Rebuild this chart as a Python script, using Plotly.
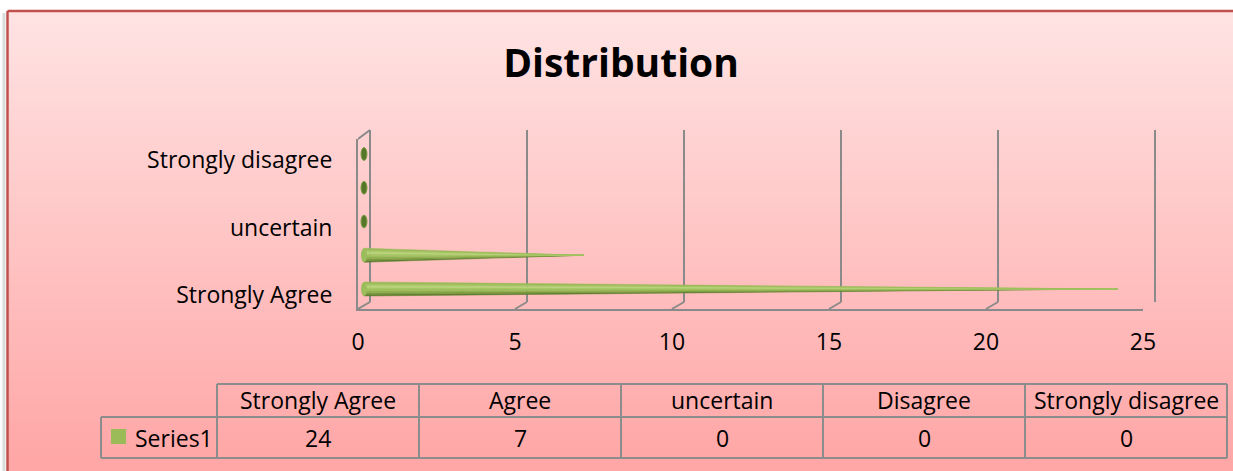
import plotly.graph_objects as go

# ---- data ----
categories = ["Strongly Agree", "Agree", "uncertain", "Disagree", "Strongly disagree"]
values = [24, 7, 0, 0, 0]
series_name = "Series1"
title_text = "Distribution"
x_ticks = [0, 5, 10, 15, 20, 25]
y_label_idx = [0, 2, 4]

W, H = 1233, 471
FONT = "Open Sans"


def fx(px):
    return px / W


def fy(py):
    return 1 - py / H


fig = go.Figure()

# ---- background: pink vertical gradient inside a red frame ----
shapes = []
top_c, bot_c = (255, 227, 227), (255, 165, 165)
y_start, y_end, step = 11, H, 4
y = y_start
while y < y_end:
    t = (y - y_start) / (y_end - y_start)
    c = tuple(round(a + (b - a) * t) for a, b in zip(top_c, bot_c))
    shapes.append(dict(type="rect", xref="paper", yref="paper", layer="below",
                       x0=fx(7), x1=1.0, y0=fy(min(y + step + 1, y_end)), y1=fy(y),
                       fillcolor=f"rgb{c}", line=dict(width=0)))
    y += step
shapes.append(dict(type="line", xref="paper", yref="paper", layer="below",
                   x0=fx(4), x1=fx(4), y0=0, y1=fy(13),
                   line=dict(color="#dcdcdc", width=3)))
shapes.append(dict(type="line", xref="paper", yref="paper", layer="below",
                   x0=fx(7.5), x1=1.0, y0=fy(11), y1=fy(11),
                   line=dict(color="#c0504d", width=2.5)))
shapes.append(dict(type="line", xref="paper", yref="paper", layer="below",
                   x0=fx(7.5), x1=fx(7.5), y0=0, y1=fy(11),
                   line=dict(color="#c0504d", width=2.5)))

GRID = "#8a8a8a"

# ---- 3D floor connectors (front edge -> back wall) and left wall top ----
for v in x_ticks:
    shapes.append(dict(type="line", xref="x", yref="paper", xsizemode="pixel",
                       xanchor=v, x0=0, x1=12, y0=fy(309), y1=fy(302),
                       line=dict(color=GRID, width=2)))
shapes.append(dict(type="line", xref="x", yref="paper", xsizemode="pixel",
                   xanchor=0, x0=0, x1=12, y0=fy(139), y1=fy(130),
                   line=dict(color=GRID, width=2)))

# ---- cones: shaded bands converging at the value ----
band_stops = [-1.0, -0.75, -0.5, -0.25, 0.0, 0.25, 0.5, 0.75, 1.0]
band_cols = ["#5f7f2e", "#7a9b40", "#8fb04f", "#9dbe5c", "#a6c765",
             "#b9d77c", "#a8c868", "#9abb58"]
h = 0.207  # half height of a cone base, in category units
for i, v in enumerate(values):
    if v > 0:
        for (a, b), col in zip(zip(band_stops[:-1], band_stops[1:]), band_cols):
            fig.add_trace(go.Scatter(
                x=[0, v, 0, 0], y=[i + a * h, i, i + b * h, i + a * h],
                mode="lines", fill="toself", fillcolor=col,
                line=dict(width=0.5, color=col), hoverinfo="skip",
                showlegend=False, xaxis="x3", yaxis="y3"))
        shapes.append(dict(type="circle", xref="x3", yref="y3", xsizemode="pixel",
                           xanchor=0, x0=-3, x1=3, y0=i - h, y1=i + h,
                           fillcolor="#9cbd5b", line=dict(width=0)))
    else:
        shapes.append(dict(type="circle", xref="x3", yref="y3", xsizemode="pixel",
                           xanchor=0, x0=-3, x1=3, y0=i - 0.19, y1=i + 0.19,
                           fillcolor="#56762a", line=dict(color="#7f9f48", width=1)))

# ---- data table below the plot ----
TBL = "#8c8c8c"
col_edges = [217, 419, 621, 823, 1025, 1227]
row_top, row_mid, row_bot = 384, 417, 458
leg_left = 101
shapes.append(dict(type="line", xref="paper", yref="paper", x0=fx(col_edges[0]), x1=fx(col_edges[-1]),
                   y0=fy(row_top), y1=fy(row_top), line=dict(color=TBL, width=2)))
shapes.append(dict(type="line", xref="paper", yref="paper", x0=fx(leg_left), x1=fx(col_edges[-1]),
                   y0=fy(row_mid), y1=fy(row_mid), line=dict(color=TBL, width=2)))
shapes.append(dict(type="line", xref="paper", yref="paper", x0=fx(leg_left), x1=fx(col_edges[-1]),
                   y0=fy(row_bot), y1=fy(row_bot), line=dict(color=TBL, width=2)))
for xe in col_edges:
    shapes.append(dict(type="line", xref="paper", yref="paper", x0=fx(xe), x1=fx(xe),
                       y0=fy(row_bot), y1=fy(row_top), line=dict(color=TBL, width=2)))
shapes.append(dict(type="line", xref="paper", yref="paper", x0=fx(leg_left), x1=fx(leg_left),
                   y0=fy(row_bot), y1=fy(row_mid), line=dict(color=TBL, width=2)))
shapes.append(dict(type="rect", xref="paper", yref="paper", x0=fx(111), x1=fx(126),
                   y0=fy(444), y1=fy(429), fillcolor="#9bbb59", line=dict(width=0)))

TXT = dict(family=FONT, size=23, color="#000000")
annotations = []
for k, (cat, v) in enumerate(zip(categories, values)):
    cx = (col_edges[k] + col_edges[k + 1]) / 2
    annotations.append(dict(x=fx(cx), y=fy((row_top + row_mid) / 2 - 1), xref="paper", yref="paper",
                            text=cat, showarrow=False, font=TXT, xanchor="center", yanchor="middle"))
    annotations.append(dict(x=fx(cx), y=fy((row_mid + row_bot) / 2), xref="paper", yref="paper",
                            text=str(v), showarrow=False, font=TXT, xanchor="center", yanchor="middle"))
annotations.append(dict(x=fx(133), y=fy((row_mid + row_bot) / 2), xref="paper", yref="paper",
                        text=series_name, showarrow=False, font=TXT, xanchor="left", yanchor="middle"))

# ---- axes: front (labels), back (grid), middle (cones) ----
px_per_cat = 33.75
y_lo = 0 - (309 - 295) / px_per_cat
y_hi = 4 + (160 - 139) / px_per_cat
px_per_x = (1155 - 370) / 25
pad = 0.1   # small overhang so the edge gridlines at 0 and 25 are kept
pad3 = 0.3  # room left of zero for the cone base caps

fig.update_layout(
    width=W, height=H,
    margin=dict(l=0, r=0, t=0, b=0, autoexpand=False),
    paper_bgcolor="white",
    plot_bgcolor="rgba(0,0,0,0)",
    showlegend=False,
    title=dict(text=f"<b>{title_text}</b>", x=fx(621), y=fy(63), xanchor="center", yanchor="middle",
               xref="paper", yref="paper", font=dict(family=FONT, size=39, color="#000000"),
               automargin=False),
    xaxis=dict(domain=[fx(358), fx(1143)], range=[0, 25], tickvals=x_ticks,
               showgrid=False, zeroline=False, showline=True, linecolor=GRID, linewidth=2,
               ticks="outside", ticklen=0, ticklabelstandoff=11, automargin=False,
               tickfont=TXT, anchor="y", fixedrange=True),
    yaxis=dict(domain=[fy(309), fy(139)], range=[y_lo, y_hi],
               tickvals=y_label_idx, ticktext=[categories[i] for i in y_label_idx],
               showgrid=False, zeroline=False, showline=True, linecolor=GRID, linewidth=2,
               ticks="outside", ticklen=0, ticklabelstandoff=19, automargin=False,
               tickfont=TXT, anchor="x", fixedrange=True),
    xaxis2=dict(domain=[fx(370 - pad * px_per_x), fx(1155 + pad * px_per_x)], range=[-pad, 25 + pad],
                tickvals=x_ticks, automargin=False,
                showgrid=True, gridcolor=GRID, gridwidth=2, zeroline=False,
                showticklabels=False, showline=False, anchor="y2", fixedrange=True),
    yaxis2=dict(domain=[fy(302), fy(130)], range=[0, 1], showgrid=False, zeroline=False,
                automargin=False,
                showticklabels=False, showline=False, anchor="x2", fixedrange=True),
    xaxis3=dict(domain=[fx(364 - pad3 * px_per_x), fx(1149)], range=[-pad3, 25], visible=False,
                automargin=False, anchor="y3", fixedrange=True),
    yaxis3=dict(domain=[fy(303), fy(133)], range=[y_lo, y_hi], visible=False,
                automargin=False, anchor="x3", fixedrange=True),
    shapes=shapes,
    annotations=annotations,
)

# keep the back-wall grid subplot present even without traces
fig.add_trace(go.Scatter(x=[0], y=[0.5], xaxis="x2", yaxis="y2", mode="markers",
                         marker=dict(opacity=0), hoverinfo="skip", showlegend=False))

fig.write_html("out.html")
